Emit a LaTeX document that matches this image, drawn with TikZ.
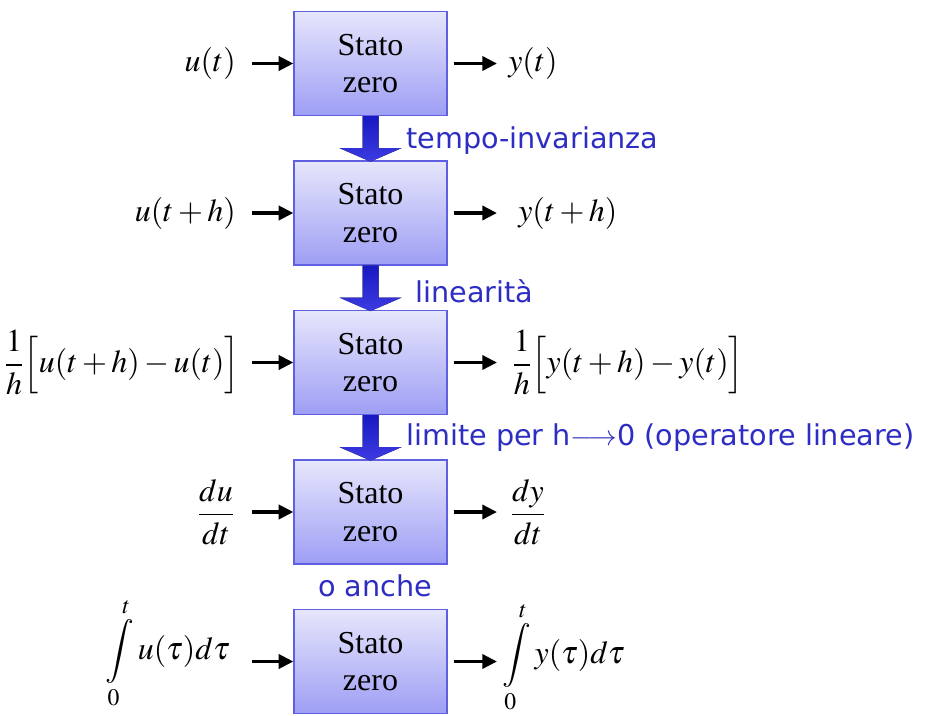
\documentclass[tikz,border=0pt]{standalone}
\usepackage{amsmath}
\usepackage{mathptmx}
\usepackage{fontspec}
\setmainfont{Liberation Serif}
\newfontfamily\labelfont{DejaVu Sans}
\usetikzlibrary{arrows.meta,calc}
\definecolor{lblue}{RGB}{45,45,195}
\definecolor{boxtop}{RGB}{230,230,252}
\definecolor{boxbot}{RGB}{158,158,245}
\definecolor{boxedge}{RGB}{95,95,225}
\definecolor{bartop}{RGB}{25,25,195}
\definecolor{barbot}{RGB}{60,60,225}
\begin{document}
\begin{tikzpicture}[x=0.75pt,y=-0.75pt,
  zbox/.style={draw=boxedge, line width=0.9pt, top color=boxtop, bottom color=boxbot,
    minimum width=114.75pt, minimum height=78pt, inner sep=0pt, align=center,
    font=\fontsize{24}{28}\selectfont},
  sig/.style={inner sep=0pt, font=\fontsize{24}{28}\selectfont},
  arr/.style={line width=2.6pt, -{Triangle[length=11pt,width=10.5pt]}},
  lbl/.style={inner sep=0pt, text=lblue, font=\labelfont\fontsize{21.5}{24}\selectfont},
  barrow/.style={top color=bartop, bottom color=barbot, draw=none}]
\useasboundingbox (0,0) rectangle (928,715);

% boxes
\foreach \i/\y in {1/63.5,2/213,3/362.5,4/512,5/661.5}{
  \node[zbox] (b\i) at (370.5,\y) {Stato\\zero};
  \coordinate (ia\i) at (252,\y);
  \coordinate (oa\i) at (497,\y);
  \draw[arr] (ia\i) -- (b\i.west);
  \draw[arr,shorten <=4.5pt] (b\i.east) -- (oa\i);
}

% block arrows between boxes
\foreach \i in {1,2,3}{
  \fill[barrow] ($(b\i.south)+(-8,0)$) -- ($(b\i.south)+(-8,32)$) -- ($(b\i.south)+(-31,32)$)
    -- ($(b\i.south)+(0,45.5)$) -- ($(b\i.south)+(31,32)$) -- ($(b\i.south)+(8,32)$)
    -- ($(b\i.south)+(8,0)$) -- cycle;
}

% inputs
\node[sig,anchor=east] (in1) at (236,63.5) {$u(t)$};
\node[sig,anchor=east] (in2) at (236,213) {$u(t+h)$};
\node[sig,anchor=east] (in3) at (240,362.5) {$\dfrac{1}{h}\Big[u(t+h)-u(t)\Big]$};
\node[sig] (in4) at (216,512) {$\dfrac{du}{dt}$};
\node[sig,anchor=east] (in5) at (230,653) {$\displaystyle\int\limits_0^t u(\tau)d\tau$};

% outputs
\node[sig,anchor=west] (out1) at (508,63.5) {$y(t)$};
\node[sig,anchor=west] (out2) at (518,213) {$y(t+h)$};
\node[sig,anchor=west] (out3) at (512,362.5) {$\dfrac{1}{h}\Big[y(t+h)-y(t)\Big]$};
\node[sig] (out4) at (528,512) {$\dfrac{dy}{dt}$};
\node[sig,anchor=west] (out5) at (502,657) {$\displaystyle\int\limits_0^t y(\tau)d\tau$};

% labels
\node[lbl,anchor=west] (l1) at (406,141) {tempo-invarianza};
\node[lbl,anchor=west] (l2) at (415,291) {linearità};
\node[lbl,anchor=west] (l3) at (406,438) {limite per h$\longrightarrow$0 (operatore lineare)};
\node[lbl] (l4) at (375,586) {o anche};
\end{tikzpicture}
\end{document}
